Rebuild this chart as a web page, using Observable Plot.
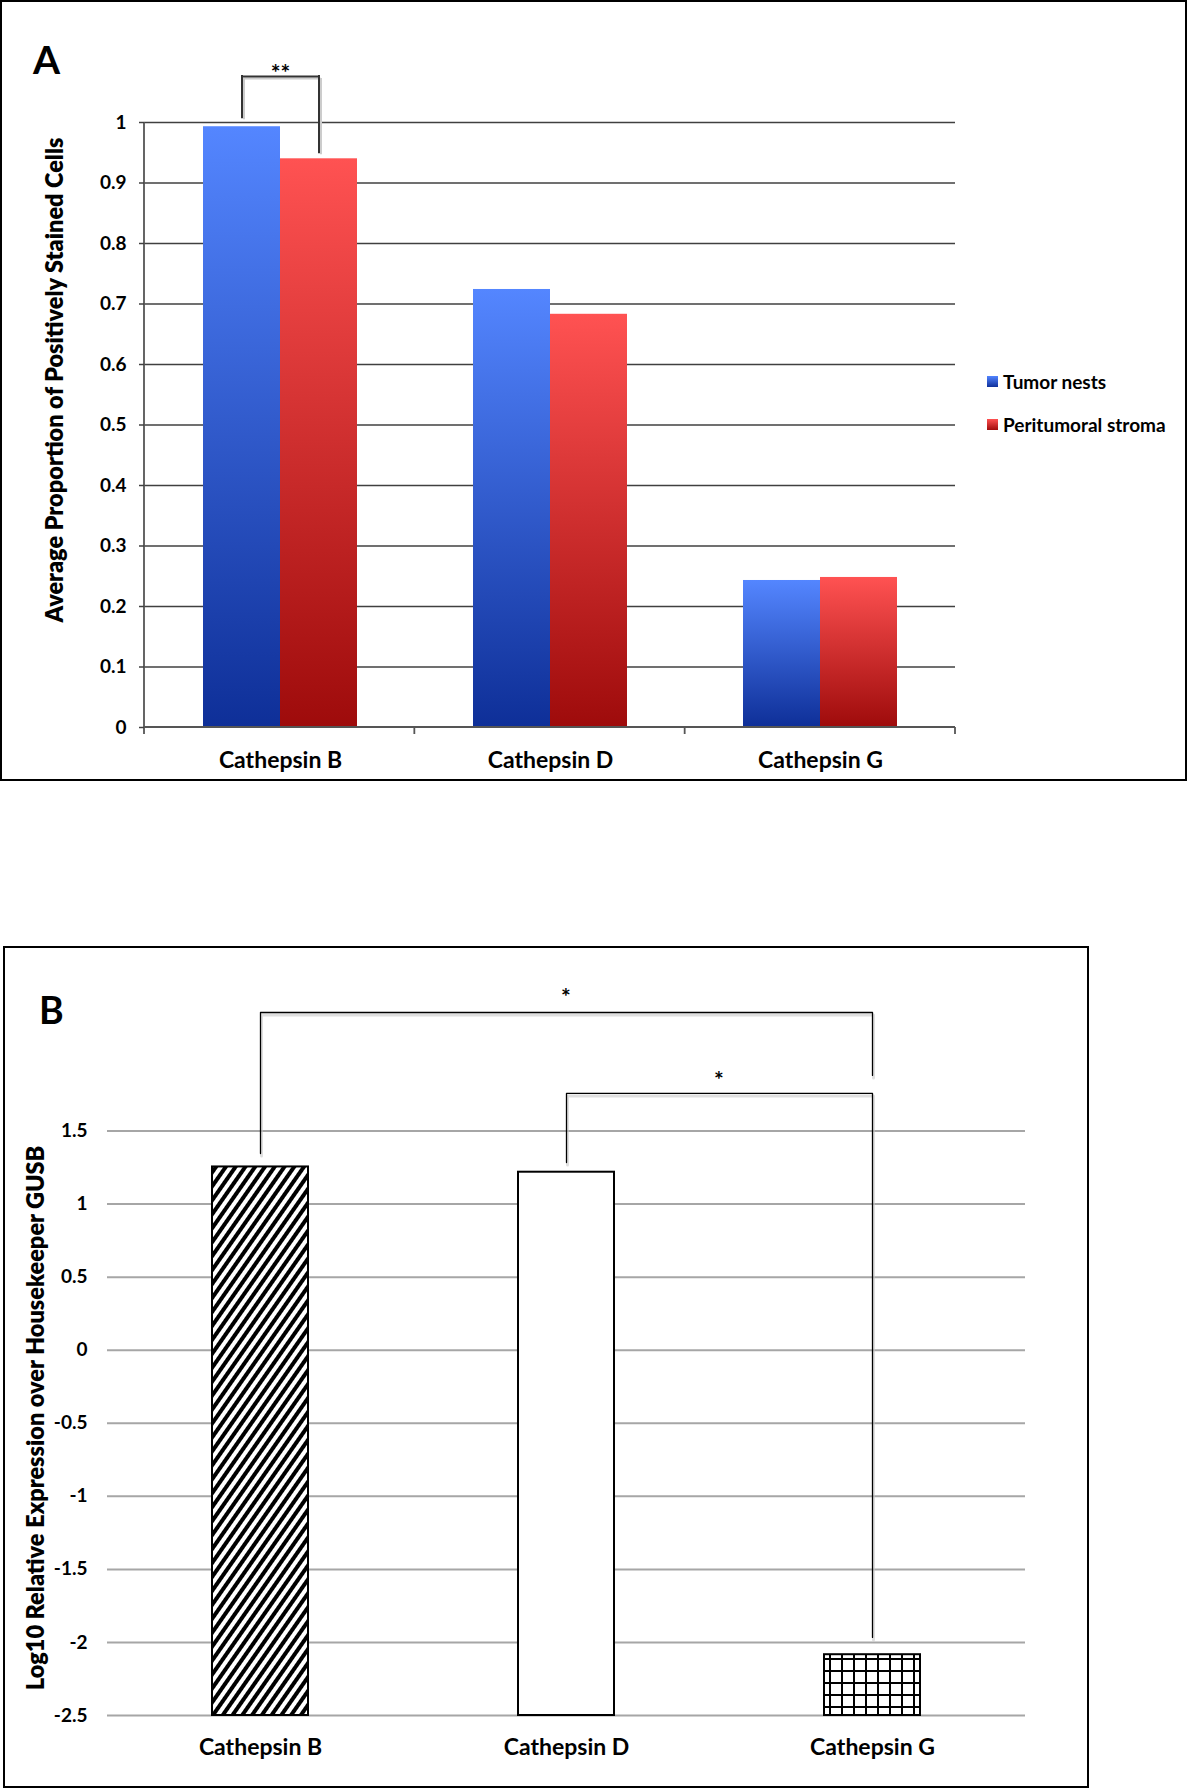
<!DOCTYPE html>
<html><head><meta charset="utf-8">
<script src="https://cdn.jsdelivr.net/npm/d3@7"></script>
<script src="https://cdn.jsdelivr.net/npm/@observablehq/plot@0.6"></script>
<style>
body{margin:0;background:#fff;}
#page{position:relative;width:1187px;height:1789px;font-family:Lato,sans-serif;font-weight:bold;color:#000;overflow:hidden;}
.abs{position:absolute;}
.box{position:absolute;box-sizing:border-box;border:2.5px solid #000;}
.letter{position:absolute;line-height:1;}
.ytitle{position:absolute;font-size:23.5px;font-weight:800;white-space:nowrap;line-height:1;transform:translate(-50%,-50%) rotate(-90deg);}
.leg{position:absolute;font-size:19px;line-height:1;display:flex;align-items:center;white-space:nowrap;}
.sw{width:11px;height:11px;margin-right:5px;}
</style></head><body>
<div id="page">
  <div id="plotA" class="abs" style="left:0;top:0"></div>
  <div id="plotB" class="abs" style="left:0;top:900px"></div>
  <div class="box" style="left:0;top:0;width:1187px;height:781px"></div>
  <div class="box" style="left:3px;top:946px;width:1086px;height:842px"></div>
  <div class="letter" style="left:33px;top:40px;font-size:39px">A</div>
  <div class="letter" style="left:39px;top:991px;font-size:37.5px">B</div>
  <div class="ytitle" style="left:55px;top:380px">Average Proportion of Positively Stained Cells</div>
  <div class="ytitle" style="left:36px;top:1418px">Log10 Relative Expression over Housekeeper GUSB</div>
  <div class="leg" style="left:987px;top:372px"><div class="sw" style="background:linear-gradient(#5284ff,#0f309a)"></div><span id="legT"></span></div>
  <div class="leg" style="left:987px;top:415px"><div class="sw" style="background:linear-gradient(#ff5050,#a00c0c)"></div><span id="legP"></span></div>
</div>
<script>
// ---------- data ----------
const categories = ["Cathepsin B", "Cathepsin D", "Cathepsin G"];
const seriesA = ["Tumor nests", "Peritumoral stroma"];
const tumorNests = [0.993, 0.724, 0.243];
const peritumoralStroma = [0.940, 0.683, 0.248];
const yTicksA = [0, 0.1, 0.2, 0.3, 0.4, 0.5, 0.6, 0.7, 0.8, 0.9, 1];
const sigA = [{category: "Cathepsin B", label: "**", labelY: 1.08, top: 1.076, leftEnd: 1.008, rightEnd: 0.950}];

const expressionB = [1.254, 1.218, -2.084];
const yDomainB = [-2.5, 1.5];
const yTicksB = [-2.5, -2, -1.5, -1, -0.5, 0, 0.5, 1, 1.5];
const sigB = [
  {from: "Cathepsin B", to: "Cathepsin G", fromEnd: 1.346, top: 2.311, toEnd: 1.88, label: "*", labelY: 2.41},
  {from: "Cathepsin D", to: "Cathepsin G", fromEnd: 1.284, top: 1.757, toEnd: -1.966, label: "*", labelY: 1.842}
];

// ---------- styles ----------
const fillB = {"Cathepsin B": "url(#hatchB)", "Cathepsin D": "white", "Cathepsin G": "url(#gridB)"};
const halfPair = 77;      // one bar width within the pair band
const halfBar = 38.5;     // half a bar width
const baseStyle = {fontFamily: "Lato, sans-serif", fontWeight: "bold", background: "transparent", overflow: "visible", color: "black"};

document.getElementById("legT").textContent = seriesA[0];
document.getElementById("legP").textContent = seriesA[1];

const dataA = categories.map((c, i) => ({category: c, tumor: tumorNests[i], stroma: peritumoralStroma[i]}));
const dataB = categories.map((c, i) => ({category: c, value: expressionB[i]}));

function gradient(defs, id, c0, c1) {
  const g = defs.append("linearGradient").attr("id", id).attr("x1", 0).attr("y1", 0).attr("x2", 0).attr("y2", 1);
  g.append("stop").attr("offset", "0%").attr("stop-color", c0);
  g.append("stop").attr("offset", "100%").attr("stop-color", c1);
}
const defsA = () => {
  const defs = d3.create("svg:defs");
  gradient(defs, "gradBlue", "#5486ff", "#0e2f98");
  gradient(defs, "gradRed", "#ff5252", "#9e0b0b");
  return defs.node();
};
const defsB = () => {
  const defs = d3.create("svg:defs");
  const h = defs.append("pattern").attr("id", "hatchB").attr("patternUnits", "userSpaceOnUse")
    .attr("width", 8).attr("height", 8).attr("patternTransform", "rotate(35)");
  h.append("rect").attr("width", 8).attr("height", 8).attr("fill", "white");
  h.append("rect").attr("width", 4).attr("height", 8).attr("fill", "black");
  const g = defs.append("pattern").attr("id", "gridB").attr("patternUnits", "userSpaceOnUse")
    .attr("width", 12).attr("height", 12).attr("x", 1).attr("y", 2);
  g.append("rect").attr("width", 12).attr("height", 12).attr("fill", "white");
  g.append("rect").attr("width", 2).attr("height", 12).attr("fill", "black");
  g.append("rect").attr("width", 12).attr("height", 2).attr("fill", "black");
  return defs.node();
};

// axis line and category-boundary ticks for panel A
const axisLinesA = (index, scales, values, dims) => {
  const {y} = scales;
  const g = d3.create("svg:g").attr("stroke", "#555").attr("stroke-width", 1.8);
  const x0 = dims.marginLeft, x1 = dims.width - dims.marginRight;
  const y0 = y(0), yTop = y(1);
  g.append("line").attr("x1", x0).attr("x2", x1).attr("y1", y0).attr("y2", y0);
  g.append("line").attr("x1", x0).attr("x2", x0).attr("y1", yTop).attr("y2", y0 + 7);
  const n = categories.length;
  for (let i = 1; i <= n; i++) {
    const xx = x0 + (x1 - x0) * i / n;
    g.append("line").attr("x1", xx).attr("x2", xx).attr("y1", y0).attr("y2", y0 + 7);
  }
  return g.node();
};

const starsB = (index, scales) => {
  const {x, y} = scales;
  const bw = x.bandwidth ? x.bandwidth() : 0;
  const g = d3.create("svg:g").attr("font-size", 23).attr("text-anchor", "middle");
  for (const b of sigB) {
    g.append("text").attr("x", (x(b.from) + x(b.to)) / 2 + bw / 2).attr("y", y(b.labelY)).attr("dy", "0.32em").text(b.label);
  }
  return g.node();
};

// ---------- panel A ----------
const plotA = Plot.plot({
  width: 1187, height: 781,
  marginTop: 122, marginBottom: 54, marginLeft: 144, marginRight: 232,
  style: baseStyle,
  x: {domain: categories, paddingInner: 0.43, paddingOuter: 0.215},
  y: {domain: [0, 1]},
  marks: [
    defsA,
    Plot.ruleY(yTicksA.filter(d => d > 0), {stroke: "#404040", strokeWidth: 1.5}),
    Plot.barY(dataA, {x: "category", y: "tumor", fill: "url(#gradBlue)", insetRight: halfPair}),
    Plot.barY(dataA, {x: "category", y: "stroma", fill: "url(#gradRed)", insetLeft: halfPair}),
    axisLinesA,
    // significance bracket (shadow, then line)
    Plot.ruleX(sigA, {x: "category", y1: "leftEnd", y2: "top", dx: -halfBar + 2, dy: 2, stroke: "#ccc", strokeWidth: 2}),
    Plot.ruleX(sigA, {x: "category", y1: "rightEnd", y2: "top", dx: halfBar + 2, dy: 2, stroke: "#ccc", strokeWidth: 2}),
    Plot.ruleY(sigA, {y: "top", x1: "category", x2: "category", insetLeft: halfBar, insetRight: halfBar, dx: 2, dy: 2, stroke: "#ccc", strokeWidth: 2}),
    Plot.ruleX(sigA, {x: "category", y1: "leftEnd", y2: "top", dx: -halfBar, stroke: "#333", strokeWidth: 2, strokeLinecap: "square"}),
    Plot.ruleX(sigA, {x: "category", y1: "rightEnd", y2: "top", dx: halfBar, stroke: "#333", strokeWidth: 2, strokeLinecap: "square"}),
    Plot.ruleY(sigA, {y: "top", x1: "category", x2: "category", insetLeft: halfBar, insetRight: halfBar, stroke: "#333", strokeWidth: 2}),
    Plot.text(sigA, {x: "category", y: "labelY", text: "label", fontSize: 23}),
    Plot.axisY({ticks: yTicksA, tickFormat: d => String(+d.toFixed(1)), tickSize: 5, tickPadding: 13, fontSize: 19, stroke: "#404040", strokeWidth: 1.5, label: null}),
    Plot.axisX({tickSize: 0, tickPadding: 24, fontSize: 23, label: null})
  ]
});
document.getElementById("plotA").appendChild(plotA);

// ---------- panel B ----------
const bracketPts = sigB.flatMap((b, i) => [
  {id: i, x: b.from, y: b.fromEnd}, {id: i, x: b.from, y: b.top},
  {id: i, x: b.to, y: b.top}, {id: i, x: b.to, y: b.toEnd}
]);
const plotB = Plot.plot({
  width: 1187, height: 889,
  marginTop: 230.5, marginBottom: 74, marginLeft: 107, marginRight: 162,
  style: baseStyle,
  x: {domain: categories, paddingInner: 0.686, paddingOuter: 0.343},
  y: {domain: yDomainB},
  color: {type: "identity"},
  marks: [
    defsB,
    Plot.ruleY(yTicksB, {stroke: "#a6a6a6", strokeWidth: 2}),
    Plot.barY(dataB, {x: "category", y1: yDomainB[0], y2: "value", fill: d => fillB[d.category], stroke: "black", strokeWidth: 2}),
    Plot.line(bracketPts, {x: "x", y: "y", z: "id", stroke: "#c4c4c4", strokeWidth: 3, strokeOpacity: 0.55, dx: 1, dy: 2.5}),
    Plot.line(bracketPts, {x: "x", y: "y", z: "id", stroke: "black", strokeWidth: 1.3}),
    starsB,
    Plot.axisY({ticks: yTicksB, tickFormat: d => String(d), tickSize: 0, tickPadding: 20, fontSize: 19, label: null}),
    Plot.axisX({tickSize: 0, tickPadding: 23, fontSize: 23, label: null})
  ]
});
document.getElementById("plotB").appendChild(plotB);
</script>
</body></html>
